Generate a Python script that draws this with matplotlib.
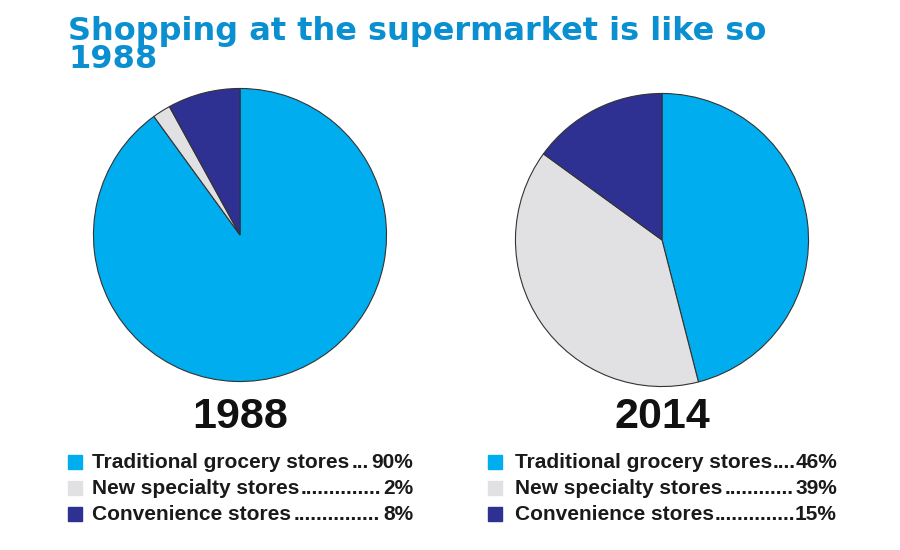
import matplotlib
matplotlib.use("Agg")
import matplotlib.pyplot as plt

# data
years = ["1988", "2014"]
categories = ["Traditional grocery stores", "New specialty stores", "Convenience stores"]
shares_1988 = [90, 2, 8]
shares_2014 = [46, 39, 15]
colors = ["#00AEEF", "#E1E1E3", "#2E3192"]

title_lines = ["Shopping at the supermarket is like so", "1988"]

W, H = 900, 550
fig = plt.figure(figsize=(W / 100, H / 100), dpi=100)
fig.patch.set_facecolor("white")


def px(x, y):
    # pixel coords (top-left origin) -> figure fraction
    return x / W, 1 - y / H


for line, yb in zip(title_lines, [40, 68]):
    fig.text(*px(68, yb), line, ha="left", va="baseline", fontsize=23,
             fontweight="bold", color="#0A8FD0", family="DejaVu Sans")

pies = [(shares_1988, 92, 87), (shares_2014, 514, 92)]
R = 296
for (vals, left, top), year in zip(pies, years):
    ax = fig.add_axes([left / W, 1 - (top + R) / H, R / W, R / H])
    ax.pie(vals, colors=colors, startangle=90, counterclock=False,
           wedgeprops=dict(edgecolor="#333333", linewidth=0.8))
    ax.set_xlim(-1.01, 1.01)
    ax.set_ylim(-1.01, 1.01)
    ax.set_aspect("equal")
    cx = left + R / 2
    fig.text(*px(cx, 428), year, ha="center", va="baseline", fontsize=31,
             fontweight="bold", color="#111111", family="Liberation Sans")

# legends
fig.canvas.draw()
renderer = fig.canvas.get_renderer()
legends = [(shares_1988, 68, 92, 413), (shares_2014, 488, 515, 837)]
row_y = [462, 488, 514]
kw = dict(va="center", fontsize=15, fontweight="bold",
          color="#1a1a1a", family="Liberation Sans")
probe = fig.text(0, 0, "." * 20, **kw)
dot_w = probe.get_window_extent(renderer).width / 20
probe.remove()
for vals, mx, tx, rx in legends:
    for cat, v, c, y in zip(categories, vals, colors, row_y):
        fig.patches.append(plt.Rectangle(px(mx, y + 7), 14 / W, 14 / H,
                                         transform=fig.transFigure,
                                         color=c, figure=fig))
        t1 = fig.text(*px(tx, y), cat, ha="left", **kw)
        t2 = fig.text(*px(rx, y), f"{v}%", ha="right", **kw)
        b1 = t1.get_window_extent(renderer)
        b2 = t2.get_window_extent(renderer)
        gap = b2.x0 - b1.x1
        n = max(3, int(gap / dot_w))
        mid = (b1.x1 + b2.x0) / 2
        fig.text(mid / W, 1 - y / H, "." * n, ha="center", **kw)

fig.savefig("out.png", dpi=100, facecolor="white")
